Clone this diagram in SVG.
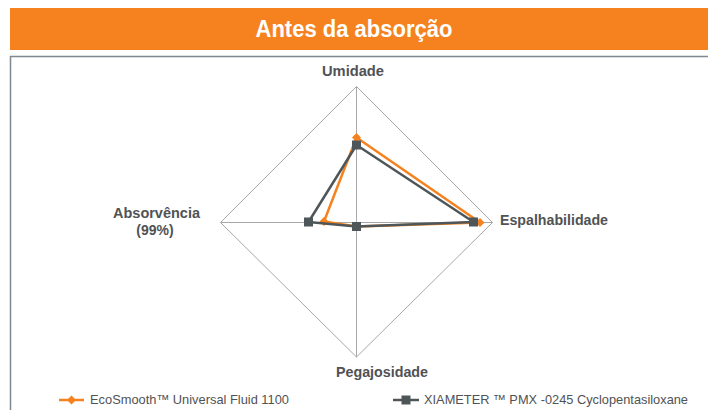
<svg xmlns="http://www.w3.org/2000/svg" width="708" height="410" viewBox="0 0 708 410">
<style>
.lbl{font-family:"Liberation Sans",Arial,sans-serif;font-weight:bold;font-size:14px;fill:#505254}
.leg{font-family:"Liberation Sans",Arial,sans-serif;font-size:13px;fill:#505254}
.grid{fill:none;stroke:#a8a8a8;stroke-width:1}
.so{fill:none;stroke:#f5821f;stroke-width:2.5;stroke-linejoin:round}
.sg{fill:none;stroke:#4f5659;stroke-width:2.5;stroke-linejoin:round}
</style>
<defs>
<path id="dia" d="M0,-4.5 L4.5,0 L0,4.5 L-4.5,0 Z" fill="#f5821f"/>
<rect id="sq" x="-4.5" y="-4.5" width="9" height="9" fill="#4f5659"/>
</defs>
<rect width="708" height="410" fill="#ffffff"/>
<g id="header">
<rect x="10" y="8" width="698" height="42" fill="#f5821f"/>
<text x="354" y="37" text-anchor="middle" font-family="Liberation Sans,Arial,sans-serif" font-weight="bold" font-size="23" fill="#ffffff" textLength="197" lengthAdjust="spacingAndGlyphs">Antes da absorção</text>
</g>
<g id="frame">
<path d="M10.5,410 V56.5 H708" fill="none" stroke="#7e8992" stroke-width="1.5"/>
</g>
<g id="grid">
<path class="grid" d="M356.5,86.5 L492.5,222.5 L356.5,357 L220.5,222.5 Z"/>
<path class="grid" d="M356.5,86.5 V357 M220.5,222.5 H492.5"/>
</g>
<g id="axis-labels">
<text class="lbl" x="353" y="76" text-anchor="middle" textLength="62" lengthAdjust="spacingAndGlyphs">Umidade</text>
<text class="lbl" x="500" y="225" textLength="108" lengthAdjust="spacingAndGlyphs">Espalhabilidade</text>
<text class="lbl" x="156.5" y="218" text-anchor="middle" textLength="87" lengthAdjust="spacingAndGlyphs">Absorvência</text>
<text class="lbl" x="155" y="235" text-anchor="middle" font-size="15">(99%)</text>
<text class="lbl" x="382" y="377" text-anchor="middle" textLength="92" lengthAdjust="spacingAndGlyphs">Pegajosidade</text>
</g>
<g id="connectors">
<g id="series-ecosmooth">
<path class="so" d="M356.5,137.5 L480,222.5 L356.5,226.5 L324,221.5 Z"/>
<use href="#dia" x="356.5" y="137.5"/>
<use href="#dia" x="480" y="222.5"/>
<use href="#dia" x="356.5" y="226.5"/>
<use href="#dia" x="324" y="221.5"/>
</g>
<g id="series-xiameter">
<path class="sg" d="M356.5,145 L473.5,222 L356.5,226.5 L308.5,222 Z"/>
<use href="#sq" x="356.5" y="145"/>
<use href="#sq" x="473.5" y="222"/>
<use href="#sq" x="356.5" y="226.5"/>
<use href="#sq" x="308.5" y="222"/>
</g>
</g>
<g id="legend">
<g id="legend-ecosmooth">
<path d="M59,400 H84" stroke="#f5821f" stroke-width="2.5"/>
<use href="#dia" x="71.5" y="400"/>
<text class="leg" x="90" y="404" textLength="199" lengthAdjust="spacingAndGlyphs">EcoSmooth™ Universal Fluid 1100</text>
</g>
<g id="legend-xiameter">
<path d="M393,400 H419" stroke="#4f5659" stroke-width="2.5"/>
<use href="#sq" x="406" y="400"/>
<text class="leg" x="424" y="404" textLength="264" lengthAdjust="spacingAndGlyphs">XIAMETER ™ PMX -0245 Cyclopentasiloxane</text>
</g>
</g>
</svg>
